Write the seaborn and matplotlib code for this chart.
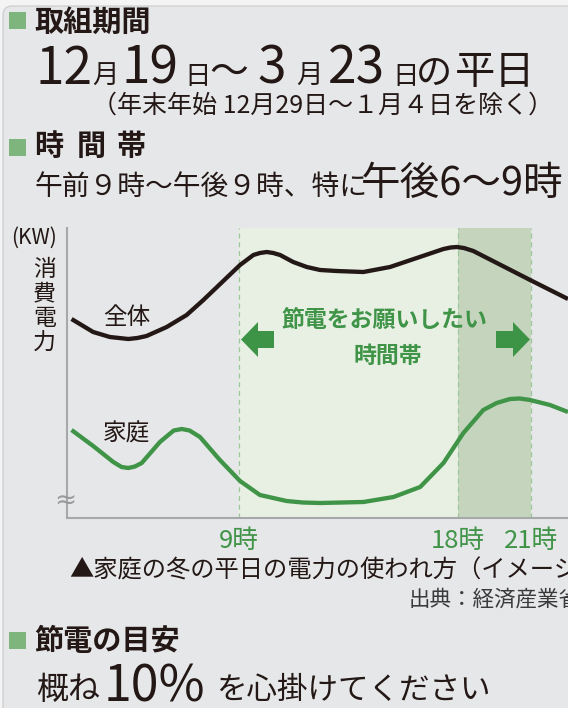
import matplotlib
matplotlib.use("Agg")
import matplotlib.pyplot as plt
import matplotlib.patches as mpatches
import matplotlib.transforms as mtransforms
import pandas as pd
import seaborn as sns

# data (hours of the day, relative power)
total_hours = [2.09, 2.98, 3.67, 4.05, 4.43, 4.80, 5.18, 6.01, 6.83, 7.52, 8.34, 9.03, 9.58, 9.85,
               10.13, 10.40, 10.68, 11.22, 11.78, 12.33, 13.01, 14.11, 15.21, 16.31, 17.41, 17.70,
               17.96, 18.25, 18.64, 19.61, 20.98, 22.54]
total_kw = [19.9, 18.6, 18.1, 18.0, 17.9, 18.0, 18.2, 19.1, 20.3, 21.8, 23.7, 25.3, 26.3, 26.5,
            26.6, 26.5, 26.3, 25.6, 25.1, 24.8, 24.7, 24.6, 25.1, 26.0, 26.9, 27.05,
            27.1, 27.0, 26.7, 25.5, 23.8, 21.9]
home_hours = [2.09, 2.98, 3.81, 4.15, 4.43, 4.70, 4.98, 5.73, 6.30, 6.63, 6.95, 7.38, 8.20, 9.03,
              9.85, 10.95, 11.60, 12.33, 14.11, 15.35, 16.45, 17.41, 18.23, 19.05, 19.60, 20.15,
              20.55, 20.98, 21.80, 22.54]
home_kw = [8.8, 7.2, 5.6, 5.1, 5.0, 5.15, 5.5, 7.6, 8.75, 8.9, 8.75, 8.1, 5.8, 3.7,
           2.3, 1.7, 1.55, 1.5, 1.6, 2.1, 3.1, 5.5, 8.5, 10.8, 11.5, 11.9,
           11.95, 11.8, 11.3, 10.6]
tick_hours = [9, 18, 21]
tick_labels = ["9時", "18時", "21時"]
request_span = (9, 18)
peak_span = (18, 21)

W, H = 568, 708
BG = "#E6E7E9"
DARK = "#231815"
GREEN = "#3F9447"
SQ = "#7DB57C"

sns.set_theme(style="white")
plt.rcParams["font.family"] = ["Noto Sans CJK JP", "DejaVu Sans"]

fig = plt.figure(figsize=(W / 100, H / 100), dpi=100, facecolor="#F4F4F4")
px = mtransforms.IdentityTransform()

# rounded panel behind everything
fig.add_artist(mpatches.FancyBboxPatch((3, -30), 640, H - 3 + 30 - 3,
                                       boxstyle="round,pad=0,rounding_size=9",
                                       transform=px, facecolor=BG, edgecolor="#C9CACC",
                                       lw=0.8, zorder=-10))


def put(x, ytop, s, size, **kw):
    kw.setdefault("color", DARK)
    return fig.text(x, H - ytop, s, fontsize=size, transform=px, va="baseline", **kw)


def square(ytop):
    fig.add_artist(mpatches.Rectangle((9, H - ytop - 17), 17, 17, transform=px,
                                      facecolor=SQ, edgecolor="none"))


# --- header blocks
square(12)
put(34, 31, "取組期間", 21, fontweight="bold")

for x, s, size in [(36, "12", 37), (92, "月", 19), (121, "19", 37), (184, "日", 19),
                   (209, "～", 28), (257, "3", 37), (296, "月", 19), (328, "23", 37),
                   (392, "日", 19), (416, "の", 26), (455, "平日", 29)]:
    put(x, 84, s, size)

put(92, 113, "（年末年始 12月29日～１月４日を除く）", 18)

square(139)
for x, ch in [(34, "時"), (77, "間"), (117, "帯")]:
    put(x, 155, ch, 21, fontweight="bold")

put(34, 195, "午前９時～午後９時、特に", 20)
put(361, 195, "午後6～9時", 28.5)

# --- chart
ax = fig.add_axes([66.7 / W, 1 - 518 / H, (W - 66.7) / W, (518 - 228) / H])
ax.set_facecolor("none")
ax.axvspan(*request_span, color="#E8F0E4", lw=0, zorder=0)
ax.axvspan(*peak_span, color="#C5D5BD", lw=0, zorder=0)
for h in tick_hours:
    ax.axvline(h, color="#9DC79A", lw=0.9, ls=(0, (4, 3)), zorder=1)

df_total = pd.DataFrame({"hour": total_hours, "kw": total_kw})
df_home = pd.DataFrame({"hour": home_hours, "kw": home_kw})
sns.lineplot(data=df_total, x="hour", y="kw", ax=ax, color=DARK, lw=3.1,
             solid_capstyle="butt", solid_joinstyle="round", zorder=3)
sns.lineplot(data=df_home, x="hour", y="kw", ax=ax, color=GREEN, lw=3.1,
             solid_capstyle="butt", solid_joinstyle="round", zorder=3)

ax.set_xlim(1.89, 22.54)
ax.set_ylim(0, 29.0)
ax.set_xlabel("")
ax.set_ylabel("")
ax.set_yticks([])
ax.set_xticks(tick_hours, tick_labels)
ax.tick_params(axis="x", length=0, pad=7, labelsize=18.5, labelcolor=GREEN)
for side in ["top", "right"]:
    ax.spines[side].set_visible(False)
for side in ["left", "bottom"]:
    ax.spines[side].set_color("#A7A8AA")
    ax.spines[side].set_linewidth(1.5)

ax.text(-0.003, 0.06, "≈", transform=ax.transAxes, ha="center", va="center",
        fontsize=19, color="#9A9A9A", family="DejaVu Sans")

# labels inside the chart
put(11, 244, "(KW)", 15)
for i, ch in enumerate("消費電力"):
    put(33, 276 + i * 24.5, ch, 16.5)
put(103, 324, "全体", 17)
put(103, 441, "家庭", 17)
fig.text(384, H - 320, "節電をお願いしたい", transform=px, ha="center", va="center",
         fontsize=16.5, fontweight="bold", color=GREEN)
fig.text(388, H - 356, "時間帯", transform=px, ha="center", va="center",
         fontsize=16.5, fontweight="bold", color=GREEN)
for x0, dx in [(274, -33), (496, 34)]:
    fig.add_artist(mpatches.FancyArrow(x0, H - 339.5, dx, 0, width=17, head_width=35,
                                       head_length=17, length_includes_head=True,
                                       transform=px, color="#3E9446", lw=0))

# --- caption
put(69, 578, "▲家庭の冬の平日の電力の使われ方（イメージ）", 17.5)
put(409, 606, "出典：経済産業省", 15.5, color="#3A3A3A")

square(632)
put(34, 650, "節電の目安", 21, fontweight="bold")
put(36, 699, "概ね", 23)
put(104, 701, "10%", 36)
put(216, 699, "を心掛けてください", 22)

fig.savefig("out.png", dpi=100, facecolor=fig.get_facecolor())
